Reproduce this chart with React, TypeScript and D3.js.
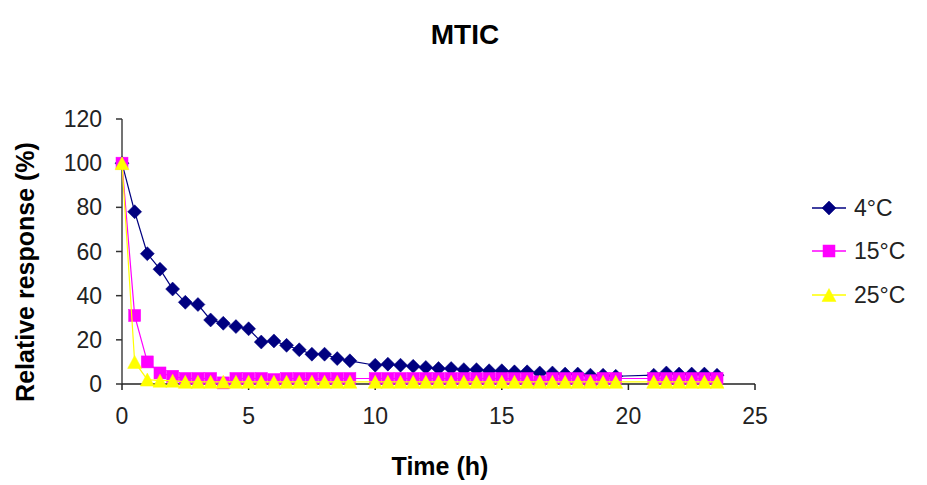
import React from "react";
import * as d3 from "d3";

// Sampling times (h)
const times = [
  0, 0.5, 1, 1.5, 2, 2.5, 3, 3.5, 4, 4.5, 5, 5.5, 6, 6.5, 7, 7.5, 8, 8.5, 9,
  10, 10.5, 11, 11.5, 12, 12.5, 13, 13.5, 14, 14.5, 15, 15.5, 16, 16.5, 17, 17.5, 18, 18.5, 19, 19.5,
  21, 21.5, 22, 22.5, 23, 23.5,
];

// Relative response (%) at each temperature
const resp4 = [
  100, 78, 59, 52, 43, 37, 36, 29, 27.5, 26, 25, 19, 19.5, 17.5, 15.5, 13.5, 13.5, 11.5, 10.5,
  8.5, 9, 8.5, 8, 7.5, 7, 7, 6.5, 6.5, 6, 6, 5.5, 5.5, 5, 5, 4.5, 4.5, 4, 4, 3.5,
  4, 5, 4.5, 4.5, 4.5, 4,
];
const resp15 = [
  100, 31, 10, 5, 3.5, 2.5, 2.5, 2.5, 0.5, 2.5, 2.5, 2.5, 2, 2.5, 2.5, 2.5, 2.5, 2.5, 2.5,
  2.5, 2.5, 2.5, 2.5, 2.5, 2.5, 2.5, 2.5, 2.5, 2.5, 2.5, 2.5, 2.5, 1, 2.5, 2.5, 2.5, 1.5, 2.5, 2.5,
  2.5, 2.5, 2.5, 2.5, 2.5, 2.5,
];
const resp25 = [
  100, 10, 2, 1.5, 1.5, 1, 1, 1, 1, 1, 1, 1, 1, 1, 1, 1, 1, 1, 1,
  1, 1, 1, 1, 1, 1, 1, 1, 1, 1, 1, 1, 1, 1, 1, 1, 1, 1, 1, 1,
  1, 1, 1, 1, 1, 1,
];

const seriesNames = ["4°C", "15°C", "25°C"];
const xTicks = [0, 5, 10, 15, 20, 25];
const yTicks = [0, 20, 40, 60, 80, 100, 120];

const colors = ["#000080", "#FF00FF", "#FFFF00"];
const font = "Arial, 'Liberation Sans', sans-serif";

function Marker({ kind, x, y, color }: { kind: number; x: number; y: number; color: string }) {
  if (kind === 0) {
    return <path d="M0,-7L7,0L0,7L-7,0Z" transform={`translate(${x},${y})`} fill={color} stroke={color} strokeWidth={0.5} />;
  }
  if (kind === 1) {
    return <rect x={x - 6} y={y - 6} width={12} height={12} fill={color} stroke={color} strokeWidth={0.5} />;
  }
  return <path d="M0,-6.5L7,6.5L-7,6.5Z" transform={`translate(${x},${y})`} fill={color} stroke={color} strokeWidth={0.5} />;
}

export default function App() {
  const W = 927;
  const H = 485;
  const x = d3.scaleLinear().domain([0, 25]).range([122, 755]);
  const y = d3.scaleLinear().domain([0, 120]).range([384, 119]);

  const series = [resp4, resp15, resp25];
  const line = d3
    .line<number>()
    .x((_, i) => x(times[i]))
    .y((d) => y(d));

  const legendRows = [208, 251, 295];

  return (
    <svg width={W} height={H} style={{ position: "absolute", left: 0, top: 0 }} fontFamily={font}>
      <rect width={W} height={H} fill="#fff" />
      <text x={465} y={44} textAnchor="middle" fontSize={28} fontWeight="bold" fill="#000">
        MTIC
      </text>

      {/* axes */}
      <line x1={x(0)} x2={x(0)} y1={y(120)} y2={y(0)} stroke="#444" strokeWidth={1.5} />
      <line x1={x(0)} x2={x(25)} y1={y(0)} y2={y(0)} stroke="#222" strokeWidth={1.5} />
      {yTicks.map((t) => (
        <g key={`y${t}`}>
          <line x1={x(0) - 6} x2={x(0)} y1={y(t)} y2={y(t)} stroke="#333" strokeWidth={1.5} />
          <text x={102} y={y(t) + 8} textAnchor="end" fontSize={23} fill="#222">
            {t}
          </text>
        </g>
      ))}
      {xTicks.map((t) => (
        <g key={`x${t}`}>
          <line x1={x(t)} x2={x(t)} y1={y(0)} y2={y(0) + 6} stroke="#222" strokeWidth={1.5} />
          <text x={x(t)} y={424} textAnchor="middle" fontSize={23} fill="#222">
            {t}
          </text>
        </g>
      ))}

      <text x={440} y={475} textAnchor="middle" fontSize={25} fontWeight="bold" fill="#000">
        Time (h)
      </text>
      <text
        transform="translate(34,272) rotate(-90)"
        textAnchor="middle"
        fontSize={25}
        fontWeight="bold"
        fill="#000"
      >
        Relative response (%)
      </text>

      {/* series */}
      {series.map((vals, si) => (
        <g key={`s${si}`}>
          <path d={line(vals) || ""} fill="none" stroke={colors[si]} strokeWidth={1.2} />
          {vals.map((v, i) => (
            <Marker key={i} kind={si} x={x(times[i])} y={y(v)} color={colors[si]} />
          ))}
        </g>
      ))}

      {/* legend */}
      {seriesNames.map((name, si) => (
        <g key={`l${si}`}>
          <line x1={812} x2={846} y1={legendRows[si]} y2={legendRows[si]} stroke={colors[si]} strokeWidth={1.3} />
          <Marker kind={si} x={829} y={legendRows[si]} color={colors[si]} />
          <text x={854} y={legendRows[si] + 8} fontSize={23} fill="#222">
            {name}
          </text>
        </g>
      ))}
    </svg>
  );
}
